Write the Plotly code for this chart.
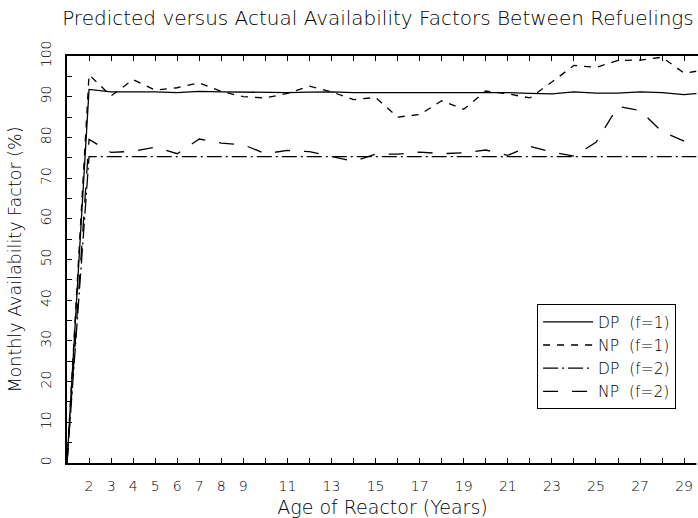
import plotly.graph_objects as go

# Age of reactor (years)
years = [1, 2, 3, 4, 5, 6, 7, 8, 9, 10, 11, 12, 13, 14, 15, 16, 17, 18, 19, 20,
         21, 22, 23, 24, 25, 26, 27, 28, 29, 30]
dp_f1 = [0, 91.8, 91.2, 91.2, 91.2, 91.0, 91.3, 91.2, 91.1, 91.1, 91.0, 91.1, 91.2, 91.0, 91.0,
         91.0, 91.0, 91.0, 90.9, 91.0, 91.0, 90.8, 90.7, 91.2, 90.9, 90.9, 91.2, 91.0, 90.5, 91.0]
np_f1 = [0, 95.4, 90.2, 94.2, 91.6, 92.2, 93.4, 91.3, 90.0, 89.7, 90.8, 92.6, 91.2, 89.3, 89.8,
         85.0, 85.6, 89.0, 86.9, 91.4, 90.7, 89.7, 93.6, 97.7, 97.2, 98.9, 99.0, 99.7, 95.8, 96.6]
dp_f2 = [0, 75.3, 75.3, 75.3, 75.3, 75.3, 75.3, 75.3, 75.3, 75.3, 75.3, 75.3, 75.3, 75.3, 75.3,
         75.3, 75.3, 75.3, 75.3, 75.3, 75.3, 75.3, 75.3, 75.3, 75.3, 75.3, 75.3, 75.3, 75.3, 75.3]
np_f2 = [0, 79.5, 76.3, 76.6, 77.6, 76.0, 79.6, 78.6, 78.2, 76.0, 76.8, 76.5, 75.3, 74.1, 75.9,
         75.9, 76.4, 76.0, 76.2, 76.9, 75.6, 77.8, 76.4, 75.4, 78.8, 87.6, 86.6, 81.4, 79.1, 77.6]
series_names = ["DP  (f=1)", "NP  (f=1)", "DP  (f=2)", "NP  (f=2)"]

x_tick_vals = [2, 3, 4, 5, 6, 7, 8, 9, 10, 11, 12, 13, 14, 15, 16, 17, 18, 19, 20,
               21, 22, 23, 24, 25, 26, 27, 28, 29, 30]
x_tick_text = ["2", "3", "4", "5", "6", "7", "8", "9", "", "11", "", "13", "", "15", "",
               "17", "", "19", "", "21", "", "23", "", "25", "", "27", "", "29", ""]
y_tick_vals = [0, 10, 20, 30, 40, 50, 60, 70, 80, 90, 100]
y_tick_text = ["0", "10", "20", "30", "40", "50", "60", "70", "80", "90", "100"]

FONT = "DejaVu Sans"
INK = "black"
W = 200

fig = go.Figure()
styles = ["solid", "7px,7px", "15px,4px,2px,4px", "15px,14px"]
for name, ys, dash in zip(series_names, [dp_f1, np_f1, dp_f2, np_f2], styles):
    fig.add_trace(go.Scatter(x=years, y=ys, name=name, mode="lines",
                             line=dict(color="black", width=1.3, dash=dash)))

fig.update_layout(
    width=698, height=518,
    margin=dict(l=67, r=0, t=56, b=55, pad=0),
    paper_bgcolor="white", plot_bgcolor="white",
    font=dict(family=FONT, size=14, color=INK, weight=W),
    title=dict(text="Predicted versus Actual Availability Factors Between Refuelings",
               x=0.5415, xanchor="center", y=0.965, yanchor="middle",
               font=dict(family=FONT, size=20, color=INK, weight=W)),
    legend=dict(x=0.745, y=0.39, xanchor="left", yanchor="top",
                bgcolor="white", bordercolor="black", borderwidth=1,
                font=dict(family=FONT, size=15.5, color=INK, weight=W),
                itemwidth=50, tracegroupgap=0),
    shapes=[dict(type="rect", xref="paper", yref="paper", x0=0.9975, x1=1.002,
                 y0=-0.01, y1=0.995, fillcolor="white", line=dict(width=0), layer="above")],
)
fig.layout.xaxis.update(
    range=[1, 29.63], showgrid=False, zeroline=False,
    showline=True, linecolor="black", linewidth=2, mirror="ticks",
    ticks="inside", ticklen=5, tickwidth=1, tickcolor="black",
    tickmode="array", tickvals=x_tick_vals, ticktext=x_tick_text, ticklabelstandoff=9,
    title=dict(text="Age of Reactor (Years)", standoff=10,
               font=dict(family=FONT, size=19, color=INK, weight=W)))
fig.layout.yaxis.update(
    range=[0, 100], showgrid=False, zeroline=False,
    showline=True, linecolor="black", linewidth=2, mirror=False,
    ticks="inside", ticklen=5, tickwidth=1, tickcolor="black",
    tickmode="array", tickvals=y_tick_vals, ticktext=y_tick_text, tickangle=-90,
    minor=dict(dtick=5, ticks="inside", ticklen=5, tickwidth=1, tickcolor="black", showgrid=False),
    ticklabelstandoff=8,
    title=dict(text="Monthly Availability Factor (%)", standoff=12,
               font=dict(family=FONT, size=17.5, color=INK, weight=W)))

fig.write_html("out.html")
